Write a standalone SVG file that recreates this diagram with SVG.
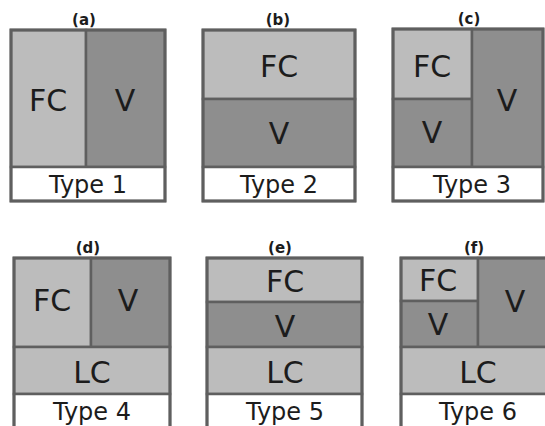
<svg xmlns="http://www.w3.org/2000/svg" width="545" height="426" viewBox="0 0 545 426">
  <style>
    .fc { fill: #bcbcbc; stroke: #5f5f5f; stroke-width: 2.5; }
    .v { fill: #8e8e8e; stroke: #5f5f5f; stroke-width: 2.5; }
    .ty { fill: #ffffff; stroke: #5f5f5f; stroke-width: 2.5; }
    .frame { fill: none; stroke: #5f5f5f; stroke-width: 3; }
    .lbl { font-family: "DejaVu Sans", Verdana, sans-serif; font-size: 30px; fill: #1c1c1c; text-anchor: middle; dominant-baseline: central; }
    .typ { font-family: "DejaVu Sans", Verdana, sans-serif; font-size: 24px; fill: #1c1c1c; text-anchor: middle; }
    .cap { font-family: "DejaVu Sans", Verdana, sans-serif; font-size: 15px; font-weight: bold; fill: #1c1c1c; text-anchor: middle; }
  </style>
  <rect width="545" height="426" fill="#ffffff"/>

  <!-- (a) FC | V side by side -->
  <g id="type1">
    <rect class="fc" x="11" y="30" width="75" height="137"/>
    <rect class="v" x="86" y="30" width="79" height="137"/>
    <rect class="ty" x="11" y="167" width="154" height="34"/>
    <rect class="frame" x="11" y="30" width="154" height="171"/>
    <text class="lbl" x="48" y="100">FC</text>
    <text class="lbl" x="125" y="100">V</text>
    <text class="typ" x="88" y="193">Type 1</text>
    <text class="cap" x="84" y="25">(a)</text>
  </g>

  <!-- (b) FC over V -->
  <g id="type2">
    <rect class="fc" x="203" y="30" width="152" height="69"/>
    <rect class="v" x="203" y="99" width="152" height="68"/>
    <rect class="ty" x="203" y="167" width="152" height="34"/>
    <rect class="frame" x="203" y="30" width="152" height="171"/>
    <text class="lbl" x="279" y="66">FC</text>
    <text class="lbl" x="279" y="133">V</text>
    <text class="typ" x="279" y="193">Type 2</text>
    <text class="cap" x="278" y="25">(b)</text>
  </g>

  <!-- (c) FC over V, beside a tall V -->
  <g id="type3">
    <rect class="fc" x="393" y="29" width="79" height="70"/>
    <rect class="v" x="393" y="99" width="79" height="68"/>
    <rect class="v" x="472" y="29" width="71" height="138"/>
    <rect class="ty" x="393" y="167" width="150" height="34"/>
    <rect class="frame" x="393" y="29" width="150" height="172"/>
    <text class="lbl" x="432" y="66">FC</text>
    <text class="lbl" x="432" y="132">V</text>
    <text class="lbl" x="507" y="100">V</text>
    <text class="typ" x="472" y="193">Type 3</text>
    <text class="cap" x="469" y="24">(c)</text>
  </g>

  <!-- (d) FC | V above LC -->
  <g id="type4">
    <rect class="fc" x="14" y="258" width="77" height="89"/>
    <rect class="v" x="91" y="258" width="79" height="89"/>
    <rect class="fc" x="14" y="347" width="156" height="47"/>
    <rect class="ty" x="14" y="394" width="156" height="40"/>
    <rect class="frame" x="14" y="258" width="156" height="176"/>
    <text class="lbl" x="52" y="300">FC</text>
    <text class="lbl" x="128" y="300">V</text>
    <text class="lbl" x="92" y="372">LC</text>
    <text class="typ" x="92" y="420">Type 4</text>
    <text class="cap" x="88" y="253">(d)</text>
  </g>

  <!-- (e) FC over V over LC -->
  <g id="type5">
    <rect class="fc" x="207" y="258" width="155" height="44"/>
    <rect class="v" x="207" y="302" width="155" height="45"/>
    <rect class="fc" x="207" y="347" width="155" height="47"/>
    <rect class="ty" x="207" y="394" width="155" height="40"/>
    <rect class="frame" x="207" y="258" width="155" height="176"/>
    <text class="lbl" x="285" y="281">FC</text>
    <text class="lbl" x="285" y="326">V</text>
    <text class="lbl" x="285" y="372">LC</text>
    <text class="typ" x="285" y="420">Type 5</text>
    <text class="cap" x="280" y="253">(e)</text>
  </g>

  <!-- (f) FC over V beside a tall V, above LC -->
  <g id="type6">
    <rect class="fc" x="401" y="258" width="77" height="43"/>
    <rect class="v" x="401" y="301" width="77" height="46"/>
    <rect class="v" x="478" y="258" width="70" height="89"/>
    <rect class="fc" x="401" y="347" width="147" height="47"/>
    <rect class="ty" x="401" y="394" width="147" height="40"/>
    <rect class="frame" x="401" y="258" width="147" height="176"/>
    <text class="lbl" x="438" y="280">FC</text>
    <text class="lbl" x="438" y="324">V</text>
    <text class="lbl" x="515" y="301">V</text>
    <text class="lbl" x="478" y="372">LC</text>
    <text class="typ" x="478" y="420">Type 6</text>
    <text class="cap" x="474" y="253">(f)</text>
  </g>
</svg>
